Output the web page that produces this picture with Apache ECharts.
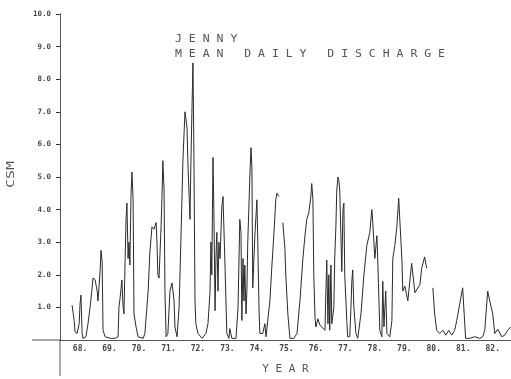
<!DOCTYPE html>
<html>
<head>
<meta charset="utf-8">
<script src="https://cdn.jsdelivr.net/npm/echarts@6/dist/echarts.min.js"></script>
<style>html,body{margin:0;padding:0;background:#fff}#c{width:511px;height:379px}</style>
</head>
<body>
<div id="c"></div>
<script>
// decimal years (19xx) and mean daily discharge in CSM; null = gap in record
const years = [
67.73,67.80,67.83,67.90,67.97,68.00,68.03,68.07,68.10,68.20,68.27,68.34,68.41,68.44,68.51,68.58,68.61,68.68,68.71,68.75,68.78,68.85,
69.02,69.19,69.29,69.32,69.36,69.42,69.46,69.49,69.53,69.56,69.59,69.63,69.66,69.69,69.73,69.76,69.80,69.83,69.90,69.97,
70.14,70.20,70.31,70.37,70.44,70.51,70.58,70.61,70.64,70.68,70.71,70.75,70.78,70.81,70.85,70.88,70.92,70.98,
71.05,71.12,71.15,71.19,71.22,71.29,71.36,71.42,71.49,71.56,71.59,71.63,71.66,71.73,71.76,71.80,71.83,71.86,71.90,71.93,
72.00,72.14,72.27,72.34,72.41,72.44,72.47,72.51,72.54,72.58,72.61,72.64,72.68,72.71,72.75,72.81,72.85,72.92,72.98,
73.05,73.08,73.15,73.29,73.36,73.42,73.46,73.49,73.53,73.56,73.59,73.63,73.66,73.69,73.76,73.80,73.83,73.86,73.93,
74.00,74.03,74.07,74.10,74.20,74.27,74.31,74.37,74.44,74.51,74.58,74.64,74.68,74.75,74.80,74.88,74.95,74.98,
75.05,75.12,75.25,75.36,75.46,75.56,75.63,75.69,75.76,75.83,75.86,75.90,75.93,75.97,
76.00,76.07,76.14,76.20,76.31,76.34,76.37,76.41,76.44,76.47,76.51,76.54,76.61,76.64,76.68,76.71,76.75,76.78,76.81,76.88,76.92,76.95,76.98,
77.05,77.08,77.15,77.19,77.22,77.25,77.29,77.36,77.42,77.53,77.63,77.73,77.83,77.90,77.93,
78.00,78.07,78.10,78.17,78.24,78.27,78.31,78.37,78.41,78.51,78.58,78.61,78.68,78.75,78.81,78.92,78.95,
79.02,79.12,79.25,79.36,79.42,79.53,79.59,79.69,79.76,79.86,79.97,
80.03,80.10,80.20,80.31,80.41,80.51,80.61,80.71,80.78,80.88,80.98,
81.08,81.22,81.39,81.56,81.66,81.73,81.83,81.90,
82.00,82.07,82.17,82.31,82.41,82.51,82.61
];
const csm = [
1.07,0.6,0.25,0.2,0.5,1.1,1.38,0.2,0.05,0.1,0.5,1.0,1.6,1.9,1.85,1.5,1.2,2.1,2.75,2.4,0.3,0.1,
0.05,0.05,0.1,1.0,1.3,1.84,1.0,0.8,2.5,3.7,4.2,2.5,3.0,2.3,4.5,5.15,4.3,0.8,0.4,0.1,
0.05,0.2,1.5,2.7,3.47,3.4,3.6,3.0,2.0,1.9,2.6,3.5,4.4,5.5,4.6,1.5,0.1,0.2,
1.5,1.75,1.7,1.2,0.4,0.1,1.0,3.0,5.5,7.0,6.8,6.5,5.4,3.7,5.4,7.2,8.5,6.0,1.2,0.5,
0.2,0.05,0.2,0.5,1.5,3.0,2.0,5.6,4.0,0.9,2.5,3.3,1.5,3.0,2.5,4.1,4.4,2.2,0.2,
0.05,0.35,0.05,0.05,1.0,3.7,3.3,0.6,2.5,1.2,2.3,0.8,1.5,3.0,5.0,5.9,5.3,1.6,3.2,
4.3,3.0,1.0,0.2,0.2,0.5,0.1,0.1,1.2,2.3,3.3,4.3,4.5,4.4,null,3.6,2.8,2.0,
0.8,0.05,0.05,0.2,1.2,2.5,3.2,3.7,3.9,4.4,4.8,4.3,2.0,0.7,
0.4,0.65,0.45,0.5,0.3,1.5,2.45,0.5,2.0,0.3,2.3,0.5,1.0,2.5,3.5,4.6,5.0,4.9,4.6,2.1,4.0,4.2,2.0,
0.6,0.1,0.1,1.0,1.8,2.15,1.0,0.2,0.05,0.8,2.0,2.9,3.3,4.0,3.6,
2.5,3.2,2.45,0.3,0.1,1.8,0.4,1.5,0.2,0.1,0.6,2.5,2.9,3.5,4.35,2.45,1.5,
1.65,1.2,2.35,1.45,1.4,1.7,2.2,2.55,2.2,null,1.6,
0.8,0.3,0.2,0.3,0.15,0.3,0.15,0.3,0.6,1.1,1.6,
0.05,0.05,0.1,0.05,0.1,0.3,1.5,1.2,
0.8,0.2,0.33,0.1,0.15,0.3,0.4
];
const yearTicks = [68,69,70,71,72,73,74,75,76,77,78,79,80,81,82];
const csmTicks = [1,2,3,4,5,6,7,8,9,10];
const titleLine1 = 'J E N N Y';
const titleLine2 = 'M E A N   D A I L Y   D I S C H A R G E';

const mono = 'DejaVu Sans Mono';
const chart = echarts.init(document.getElementById('c'), null, {renderer: 'canvas'});
const data = years.map((t, i) => [t, csm[i]]);
const X_MIN = 67.32, X_MAX = 82.62;
chart.setOption({
  animation: false,
  backgroundColor: '#fff',
  grid: {left: 60, right: 0, top: 14, bottom: 39, containLabel: false, outerBoundsMode: 'none'},
  xAxis: {
    type: 'value', min: X_MIN, max: X_MAX,
    axisLine: {onZero: false, lineStyle: {color: '#555', width: 1}},
    axisTick: {show: false},
    splitLine: {show: false},
    axisLabel: {customValues: yearTicks, formatter: v => v + '.', color: '#444',
      fontFamily: mono, fontSize: 8, fontWeight: 'bold', margin: 5},
    name: 'Y E A R', nameLocation: 'middle', nameGap: 24,
    nameTextStyle: {fontFamily: mono, fontSize: 11, color: '#555'}
  },
  yAxis: {
    type: 'value', min: 0, max: 10,
    axisLine: {show: true, onZero: false, lineStyle: {color: '#555', width: 1}},
    axisTick: {show: true, customValues: csmTicks, length: 4, lineStyle: {color: '#333'}},
    splitLine: {show: false},
    axisLabel: {customValues: csmTicks, formatter: v => v.toFixed(1), color: '#444',
      fontFamily: mono, fontSize: 7.5, fontWeight: 'bold', margin: 9}
  },
  series: [{
    type: 'line', data: data, showSymbol: false, connectNulls: false,
    lineStyle: {color: '#2a2a2a', width: 1}, clip: true
  }],
  graphic: [
    {id: 't1', type: 'text', left: 175, top: 34, scaleX: 1.15,
     style: {text: titleLine1, font: '10px ' + mono, fill: '#555'}},
    {id: 't2', type: 'text', left: 175, top: 49, scaleX: 1.15,
     style: {text: titleLine2, font: '10px ' + mono, fill: '#555'}},
    {id: 'yname', type: 'text', x: 6, y: 188, rotation: Math.PI / 2, scaleX: 1.35,
     style: {text: 'CSM', font: '11px ' + mono, fill: '#555'}}
  ]
});
// axis-line extensions past the origin (decoration, positioned from the axis scales)
const origin = chart.convertToPixel({gridIndex: 0}, [X_MIN, 0]);
const unitX = chart.convertToPixel({gridIndex: 0}, [X_MIN + 1, 0])[0] - origin[0];
const unitY = origin[1] - chart.convertToPixel({gridIndex: 0}, [X_MIN, 1])[1];
chart.setOption({
  graphic: [
    {id: 'extX', type: 'line', z: 10,
     shape: {x1: origin[0] - 0.95 * unitX, y1: origin[1], x2: origin[0], y2: origin[1]},
     style: {stroke: '#555', lineWidth: 1}},
    {id: 'extY', type: 'line', z: 10,
     shape: {x1: origin[0], y1: origin[1], x2: origin[0], y2: origin[1] + 1.1 * unitY},
     style: {stroke: '#555', lineWidth: 1}}
  ]
});
</script>
</body>
</html>
